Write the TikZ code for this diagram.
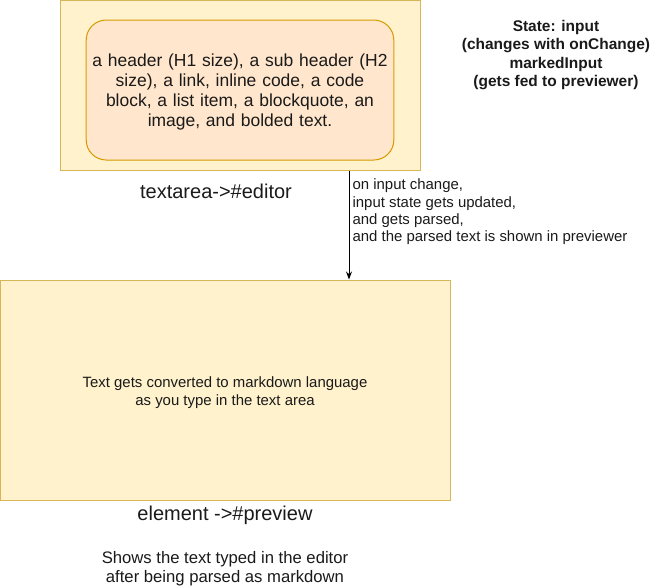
\documentclass[tikz,border=0pt]{standalone}
\usepackage{fontspec}
\setmainfont{Liberation Sans}
\usetikzlibrary{arrows.meta,positioning}
\definecolor{paleyellow}{HTML}{FFF2CC}
\definecolor{goldline}{HTML}{D6B656}
\definecolor{paleorange}{HTML}{FFE6CC}
\definecolor{orangeline}{HTML}{D79B00}
\definecolor{inktext}{HTML}{1A1A1A}

\begin{document}
\begin{tikzpicture}[x=0.75pt, y=-0.75pt, >={Stealth[length=6pt, width=4.5pt]}]
\tikzset{
  panel/.style={draw=goldline, fill=paleyellow, line width=0.75pt, inner sep=0pt},
  card/.style={draw=orangeline, fill=paleorange, line width=0.75pt, rounded corners=15pt, align=center, text width=224pt, font=\fontsize{13.1}{15}\selectfont, text=inktext},
  caption/.style={align=center, font=\fontsize{15}{18}\selectfont, text=inktext},
  note/.style={align=center, font=\fontsize{11.2}{13.5}\selectfont, text=inktext}
}
\useasboundingbox (0,0) rectangle (651,586);
\node[panel, minimum width=270pt, minimum height=127.5pt] (editor) at (240,85) {};
\node[card, minimum width=225pt, minimum height=105pt] (content) at (240,90) {};
\node[card, draw=none, fill=none] (contenttext) at (240,92)
  {a header (H1 size), a sub header (H2\\ size), a link, inline code, a code\\ block, a list item, a blockquote, an\\ image, and bolded text.};
\node[caption] (editorlabel) at (216,191) {textarea-\textgreater\#editor};
\node[panel, minimum width=337.5pt, minimum height=165pt] (preview) at (225,390) {};
\node[note] (previewtext) at (225,393)
  {Text gets converted to markdown language\\ as you type in the text area};
\node[caption] (previewlabel) at (225,515) {element -\textgreater\#preview};
\node[note, font=\fontsize{12.5}{14.3}\selectfont] (previewnote) at (225,569) {Shows the text typed in the editor\\ after being parsed as markdown};
\node[note, font=\bfseries\fontsize{11.6}{13.9}\selectfont] (state) at (556,55)
  {State: input\\ (changes with onChange)\\ markedInput\\ (gets fed to previewer)};

\coordinate (drop) at (349,0);
\draw[->, line width=0.75pt] (editor.south -| drop) -- node[right=-1pt, align=left, font=\fontsize{11.2}{12.9}\selectfont, text=inktext, pos=0.38] {on input change,\\ input state gets updated,\\ and gets parsed,\\ and the parsed text is shown in previewer} (preview.north -| drop);
\end{tikzpicture}
\end{document}
